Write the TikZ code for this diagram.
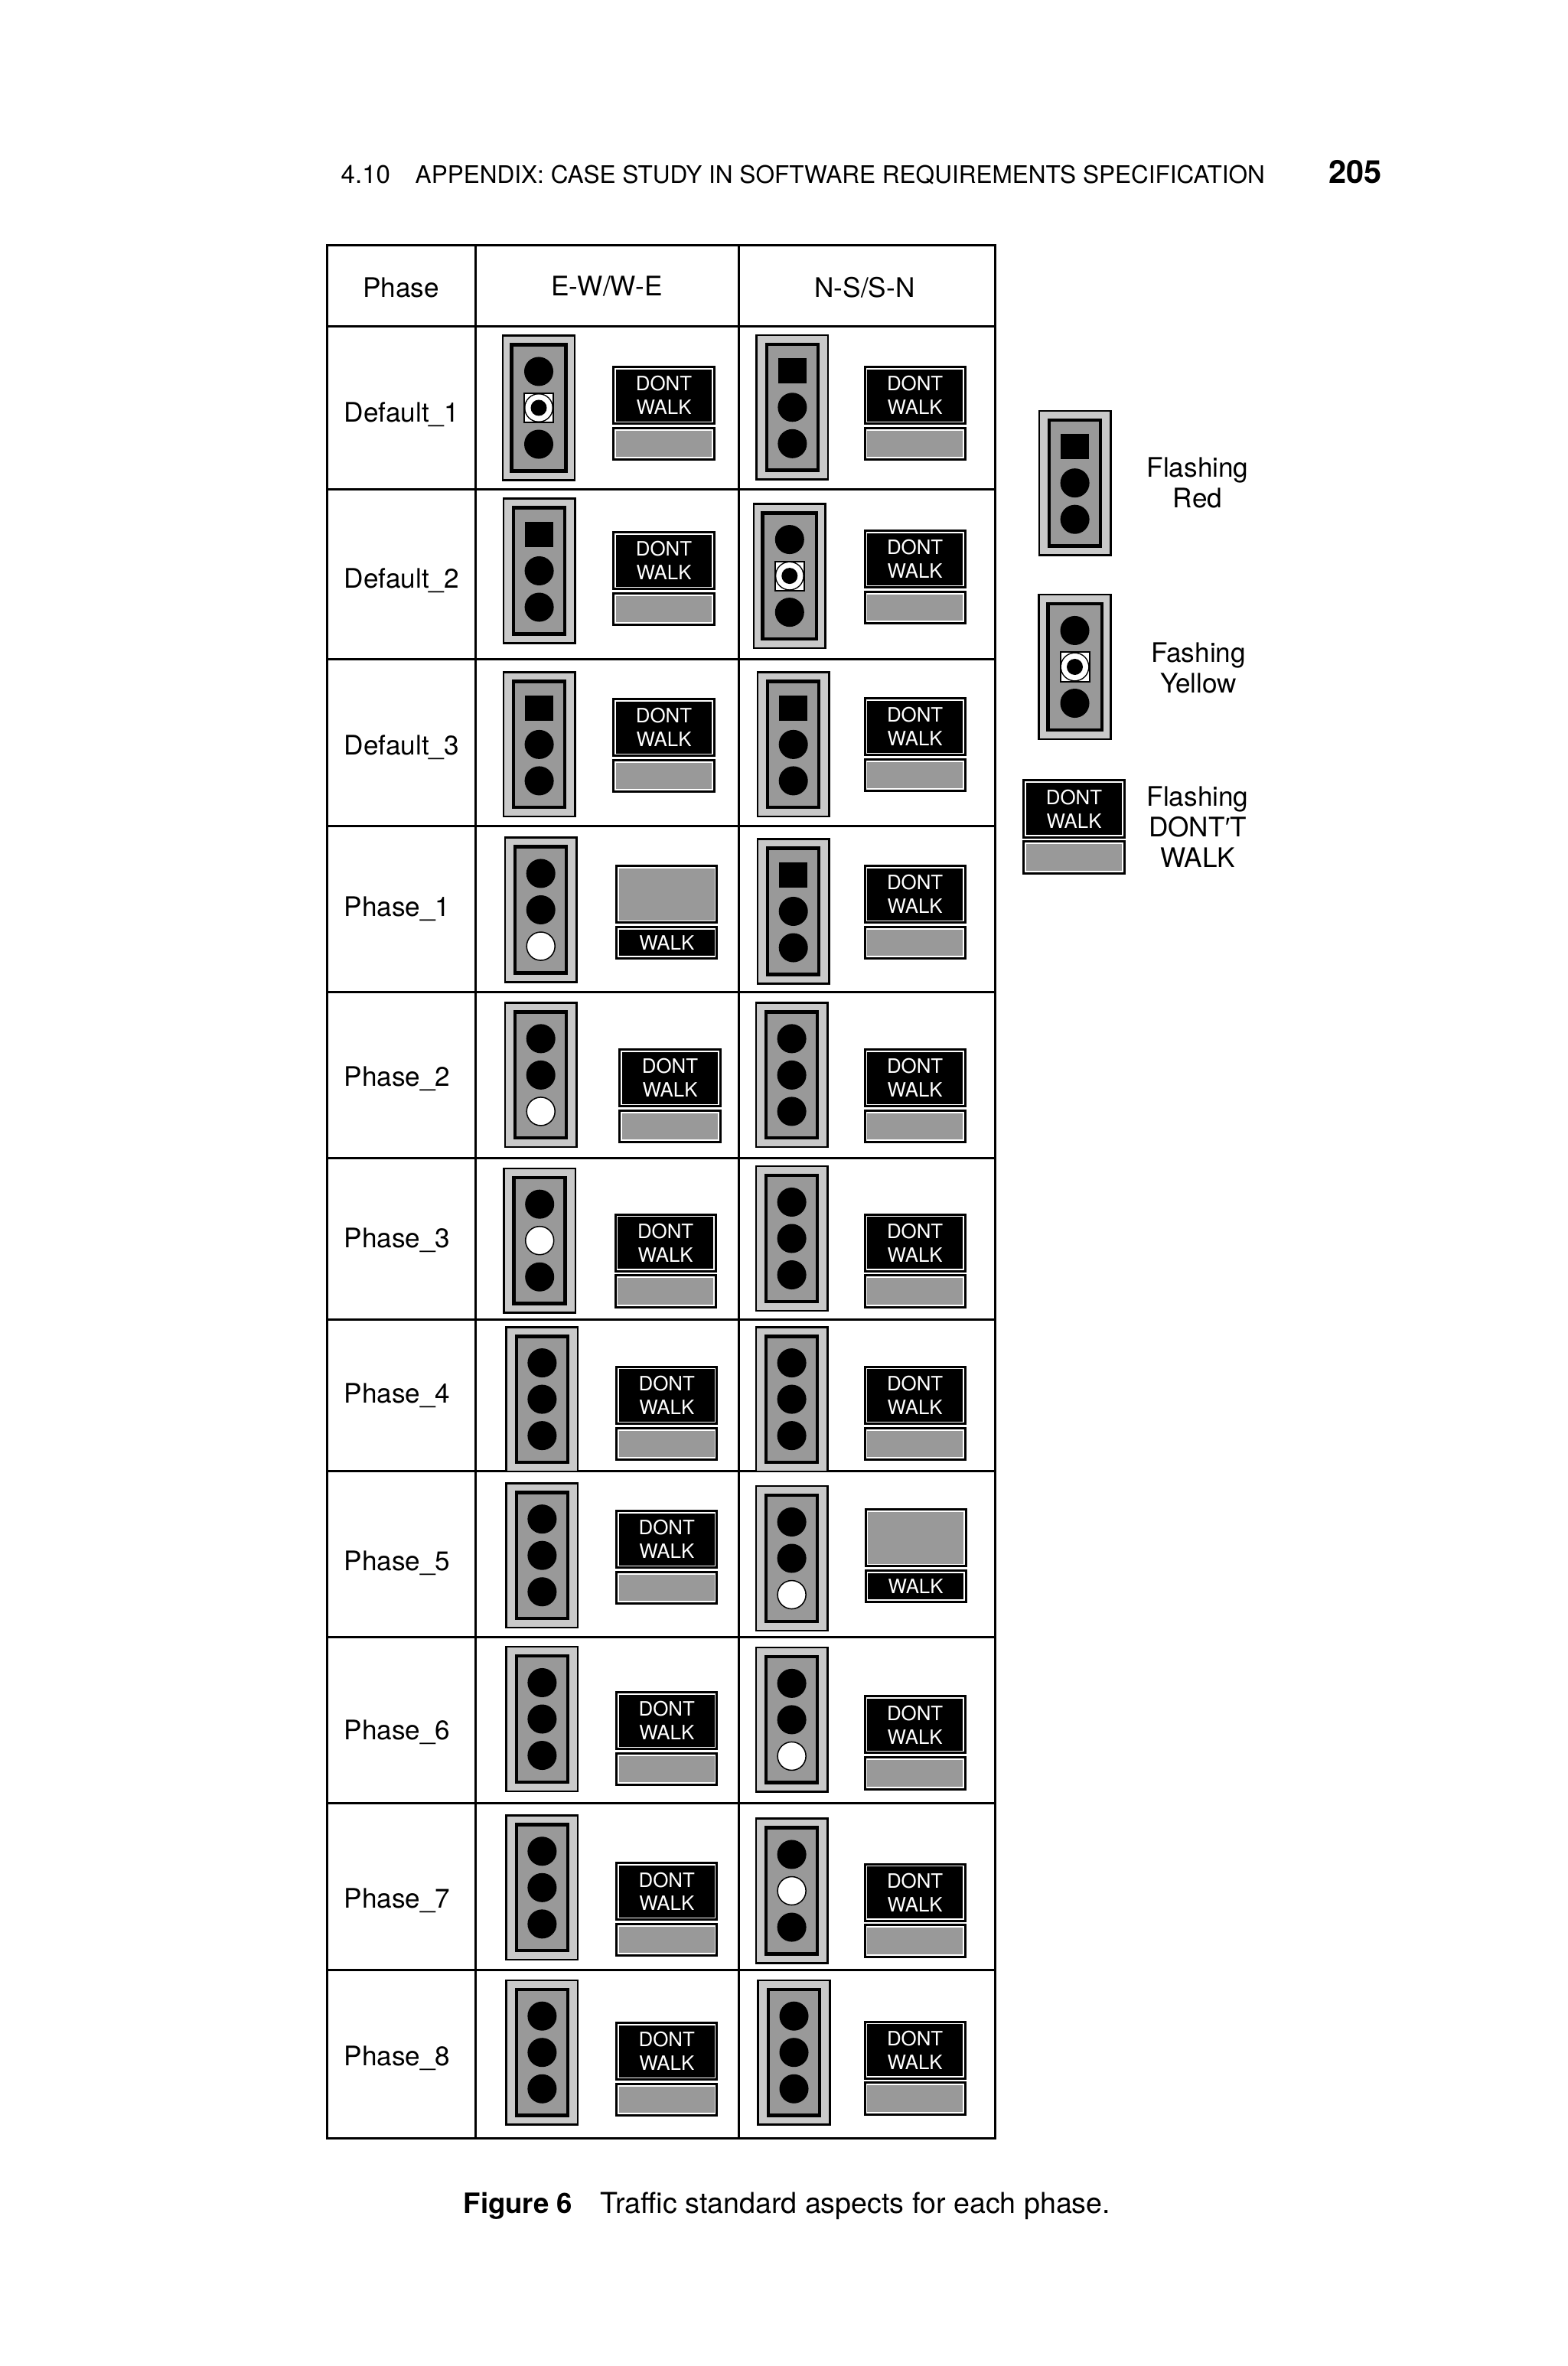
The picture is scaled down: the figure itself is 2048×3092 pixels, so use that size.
\documentclass[tikz,border=0pt]{standalone}
\usepackage{fontspec}
\setmainfont{TeX Gyre Heros}
\newfontfamily\primefont{Liberation Sans}

\definecolor{housegray}{HTML}{C9C9C9}
\definecolor{facegray}{HTML}{999999}

\tikzset{
    gridline/.style={line width=0.03cm},
    cell/.style={font=\fontsize{10}{11.4}\selectfont, inner sep=0pt},
    legendtext/.style={cell, align=center},
    housing/.style={rectangle, draw=black, fill=housegray, line width=0.025cm,
        minimum width=0.935cm, minimum height=1.885cm, inner sep=0pt},
    housingframe/.style={rectangle, draw=black, fill=facegray, line width=0.045cm,
        minimum height=1.645cm, inner sep=0pt},
    lampoff/.style={circle, fill=black, minimum size=0.38cm, inner sep=0pt},
    lampwhite/.style={circle, draw=black, fill=white, line width=0.015cm, minimum size=0.37cm, inner sep=0pt},
    lampred/.style={rectangle, fill=black, minimum width=0.37cm, minimum height=0.33cm, inner sep=0pt},
    lampyellow/.style={rectangle, draw=black, fill=white, line width=0.02cm, minimum size=0.38cm, inner sep=0pt,
        path picture={
            \fill[black] (path picture bounding box.center) circle (0.19cm);
            \fill[white] (path picture bounding box.center) circle (0.175cm);
            \fill[black] (path picture bounding box.center) circle (0.105cm);
        }},
    panelframe/.style={rectangle, draw=black, fill=white, line width=0.03cm,
        minimum width=1.31cm, inner sep=0pt},
    paneltall/.style={panelframe, minimum height=0.74cm},
    panellow/.style={panelframe, minimum height=0.415cm},
    panelink/.style={rectangle, fill=black, text=white, minimum width=1.25cm, inner sep=0pt, align=center,
        font=\fontsize{7.35}{8.8}\selectfont},
    panelface/.style={rectangle, fill=facegray, minimum width=1.25cm, inner sep=0pt},
}

% [frame width] name, x, y, top lamp, middle lamp, bottom lamp
\newcommand{\signalhead}[7][0.67cm]{
    \node[housing] (#2) at (#3, #4) {};
    \node[housingframe, minimum width=#1] (#2f) at (#2) {};
    \node[#5] (#2a) at ([yshift=0.475cm]#2) {};
    \node[#6] (#2b) at (#2) {};
    \node[#7] (#2c) at ([yshift=-0.475cm]#2) {};
}
\newcommand{\dontwalk}[3]{
    \node[paneltall] (#1u) at (#2, #3) {};
    \node[panelink, minimum height=0.68cm] (#1t) at (#1u) {DONT\\WALK};
    \node[panellow] (#1l) at ([yshift=-0.633cm]#1u) {};
    \node[panelface, minimum height=0.345cm] (#1g) at (#1l) {};
}
\newcommand{\walksign}[3]{
    \node[paneltall] (#1u) at (#2, #3) {};
    \node[panelface, minimum height=0.68cm] (#1g) at (#1u) {};
    \node[panellow] (#1l) at ([yshift=-0.633cm]#1u) {};
    \node[panelink, minimum height=0.345cm] (#1t) at (#1l) {WALK};
}

\begin{document}
\begin{tikzpicture}[x=0.01cm, y=-0.01cm]
    \useasboundingbox (0, 0) rectangle (2048, 3092);

    % running head
    \node[anchor=base west, inner sep=0pt, font=\fontsize{9.4}{11}\selectfont] (headnum) at (445, 240) {4.10};
    \node[anchor=base west, inner sep=0pt, font=\fontsize{8.97}{11}\selectfont] (headtext) at (542, 240)
        {APPENDIX: CASE STUDY IN SOFTWARE REQUIREMENTS SPECIFICATION};
    \node[anchor=base west, inner sep=0pt, font=\fontsize{11.8}{14}\selectfont\bfseries] (headpage) at (1736, 240) {205};

    % table
    \draw[gridline] (427, 320.5) rectangle (1300, 2794);
    \draw[gridline] (621, 320.5) -- (621, 2794);
    \draw[gridline] (965, 320.5) -- (965, 2794);
    \foreach \rowy in {427, 640, 862, 1079, 1296, 1513, 1724, 1922, 2139, 2356, 2574}
        \draw[gridline] (427, \rowy) -- (1300, \rowy);

    \node[cell] (headphase) at (524, 376) {Phase};
    \node[cell] (headew) at (793, 374) {E-W/W-E};
    \node[cell] (headns) at (1130, 376) {N-S/S-N};

    \node[cell, anchor=base west] (rowa) at (449, 552) {Default\_1};
    \node[cell, anchor=base west] (rowb) at (449, 769) {Default\_2};
    \node[cell, anchor=base west] (rowc) at (449, 986) {Default\_3};
    \node[cell, anchor=base west] (rowd) at (449, 1197) {Phase\_1};
    \node[cell, anchor=base west] (rowe) at (449, 1419) {Phase\_2};
    \node[cell, anchor=base west] (rowf) at (449, 1630) {Phase\_3};
    \node[cell, anchor=base west] (rowg) at (449, 1833) {Phase\_4};
    \node[cell, anchor=base west] (rowh) at (449, 2052) {Phase\_5};
    \node[cell, anchor=base west] (rowi) at (449, 2273) {Phase\_6};
    \node[cell, anchor=base west] (rowj) at (449, 2493) {Phase\_7};
    \node[cell, anchor=base west] (rowk) at (449, 2699) {Phase\_8};

    % Default_1
    \signalhead[0.705cm]{ewa}{704}{533}{lampoff}{lampyellow}{lampoff}
    \dontwalk{pewa}{867.5}{516.7}
    \signalhead{nsa}{1035.4}{532.3}{lampred}{lampoff}{lampoff}
    \dontwalk{pnsa}{1195.6}{516.7}
    % Default_2
    \signalhead{ewb}{704.6}{746}{lampred}{lampoff}{lampoff}
    \dontwalk{pewb}{867.5}{732.8}
    \signalhead[0.705cm]{nsb}{1031.8}{752.6}{lampoff}{lampyellow}{lampoff}
    \dontwalk{pnsb}{1195.6}{730.7}
    % Default_3
    \signalhead{ewc}{704.6}{972.9}{lampred}{lampoff}{lampoff}
    \dontwalk{pewc}{867.5}{950.6}
    \signalhead{nsc}{1036.7}{972.9}{lampred}{lampoff}{lampoff}
    \dontwalk{pnsc}{1195.6}{949.8}
    % Phase_1
    \signalhead{ewd}{706.7}{1189}{lampoff}{lampoff}{lampwhite}
    \walksign{pewd}{871.3}{1168.8}
    \signalhead{nsd}{1036.7}{1191}{lampred}{lampoff}{lampoff}
    \dontwalk{pnsd}{1195.6}{1168.8}
    % Phase_2
    \signalhead{ewe}{706.7}{1404.9}{lampoff}{lampoff}{lampwhite}
    \dontwalk{pewe}{875.5}{1408.7}
    \signalhead{nse}{1034.6}{1404.9}{lampoff}{lampoff}{lampoff}
    \dontwalk{pnse}{1195.6}{1408.7}
    % Phase_3
    \signalhead{ewf}{705.2}{1621.2}{lampoff}{lampwhite}{lampoff}
    \dontwalk{pewf}{869.6}{1624.2}
    \signalhead{nsf}{1034.6}{1618.5}{lampoff}{lampoff}{lampoff}
    \dontwalk{pnsf}{1195.6}{1624.2}
    % Phase_4
    \signalhead{ewg}{708.4}{1828.6}{lampoff}{lampoff}{lampoff}
    \dontwalk{pewg}{871.3}{1823.5}
    \signalhead{nsg}{1034.6}{1828.6}{lampoff}{lampoff}{lampoff}
    \dontwalk{pnsg}{1195.6}{1823.5}
    % Phase_5
    \signalhead{ewh}{708.4}{2032.7}{lampoff}{lampoff}{lampoff}
    \dontwalk{pewh}{871.3}{2011.7}
    \signalhead{nsh}{1034.6}{2036.5}{lampoff}{lampoff}{lampwhite}
    \walksign{pnsh}{1196.6}{2009.8}
    % Phase_6
    \signalhead{ewi}{708.4}{2246.5}{lampoff}{lampoff}{lampoff}
    \dontwalk{pewi}{871.3}{2248.6}
    \signalhead{nsi}{1034.6}{2247.4}{lampoff}{lampoff}{lampwhite}
    \dontwalk{pnsi}{1195.6}{2253.9}
    % Phase_7
    \signalhead{ewj}{708.4}{2466.8}{lampoff}{lampoff}{lampoff}
    \dontwalk{pewj}{871.3}{2471.8}
    \signalhead{nsj}{1034.6}{2471}{lampoff}{lampwhite}{lampoff}
    \dontwalk{pnsj}{1195.6}{2473.2}
    % Phase_8
    \signalhead{ewk}{708.4}{2682.2}{lampoff}{lampoff}{lampoff}
    \dontwalk{pewk}{871.3}{2680.7}
    \signalhead{nsk}{1037.5}{2682.2}{lampoff}{lampoff}{lampoff}
    \dontwalk{pnsk}{1195.6}{2679.3}

    % legend
    \signalhead{keyred}{1404.6}{631.2}{lampred}{lampoff}{lampoff}
    \node[legendtext] (keyredtext) at (1565, 631) {Flashing\\Red};
    \signalhead[0.705cm]{keyyellow}{1404.5}{871.5}{lampoff}{lampyellow}{lampoff}
    \node[legendtext] (keyyellowtext) at (1566, 873) {Fashing\\Yellow};
    \dontwalk{keypanel}{1403.5}{1057}
    \node[legendtext] (keypaneltext) at (1565, 1081) {Flashing\\DONT{\primefont ′}T\\WALK};

    % caption
    \node[anchor=base west, inner sep=0pt, font=\fontsize{10.4}{12}\selectfont\bfseries] (capnum) at (605, 2892) {Figure 6};
    \node[anchor=base west, inner sep=0pt, font=\fontsize{10.7}{12}\selectfont] (captext) at (784, 2892)
        {Traffic standard aspects for each phase.};
\end{tikzpicture}
\end{document}
